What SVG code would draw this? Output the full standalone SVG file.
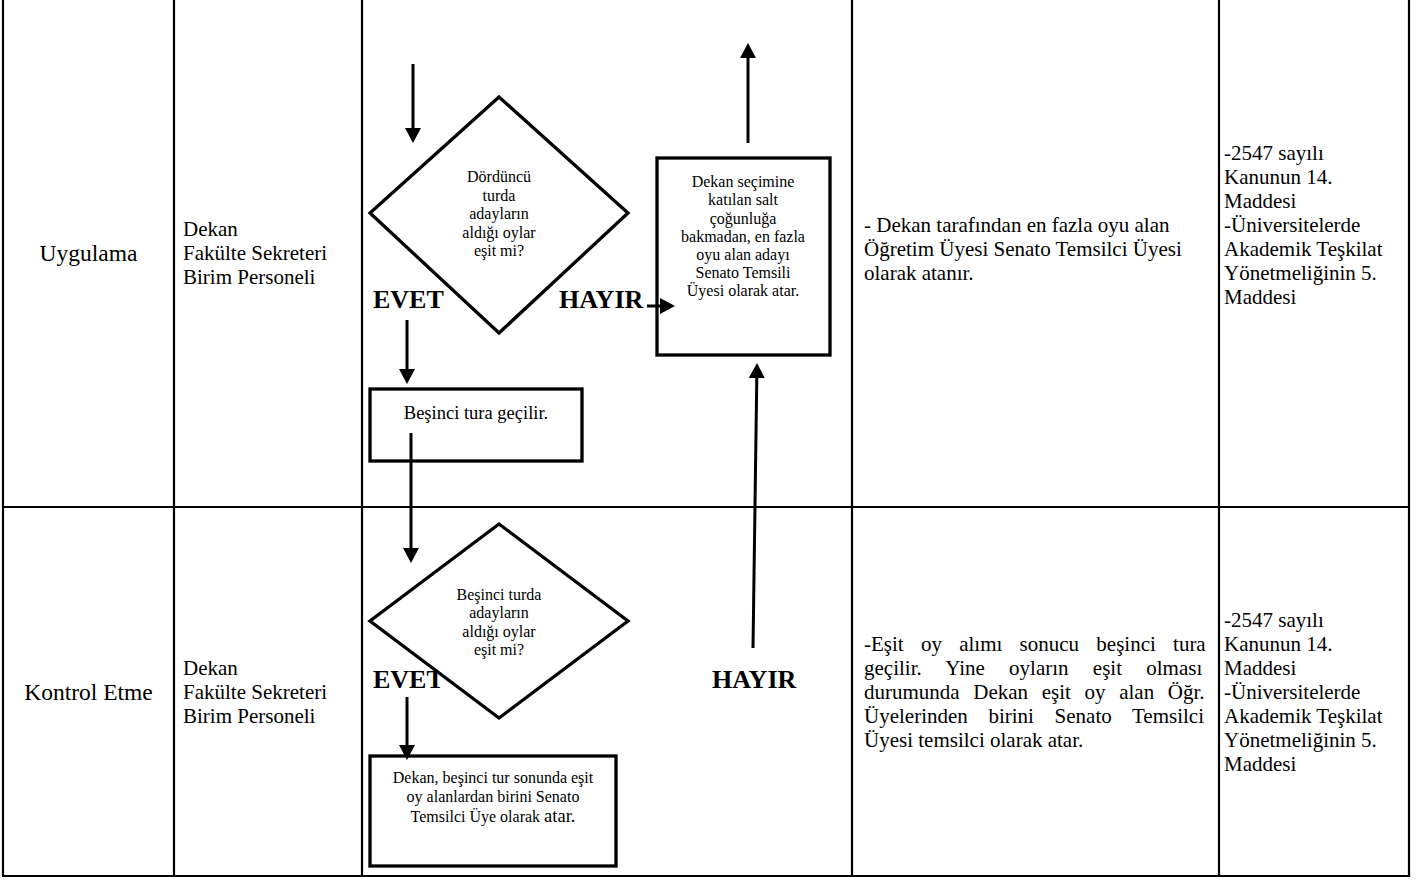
<svg xmlns="http://www.w3.org/2000/svg" width="1421" height="880" viewBox="0 0 1421 880">
<style>
  .grid { stroke: #000; stroke-width: 2.2; fill: none; }
  .shape { stroke: #000; stroke-width: 3.3; fill: #fff; }
  .conn { stroke: #000; stroke-width: 3; fill: none; marker-end: url(#ah); }
  .cell { font-family: "Liberation Serif", "Times New Roman", serif; font-size: 21px; fill: #000; }
  .phase { font-family: "Liberation Serif", "Times New Roman", serif; font-size: 23.5px; fill: #000; text-anchor: middle; }
  .node { font-family: "Liberation Serif", "Times New Roman", serif; font-size: 16px; fill: #000; text-anchor: middle; }
  .lbl { font-family: "Liberation Serif", "Times New Roman", serif; font-size: 26px; font-weight: bold; fill: #000; }
</style>
<defs>
  <marker id="ah" viewBox="0 0 15 16" refX="5" refY="8" markerWidth="15" markerHeight="16" markerUnits="userSpaceOnUse" orient="auto">
    <path d="M0,0 L15,8 L0,16 Z" fill="#000"/>
  </marker>
</defs>
<rect width="1421" height="880" fill="#fff"/>

<g id="table" class="grid">
  <line x1="3" y1="0" x2="3" y2="877"/>
  <line x1="174" y1="0" x2="174" y2="877"/>
  <line x1="362" y1="0" x2="362" y2="877"/>
  <line x1="852" y1="0" x2="852" y2="877"/>
  <line x1="1219" y1="0" x2="1219" y2="877"/>
  <line x1="1409" y1="0" x2="1409" y2="877"/>
  <line x1="2" y1="507" x2="1410" y2="507"/>
  <line x1="2" y1="876" x2="1410" y2="876"/>
</g>

<g id="row1-cells">
  <text class="phase" x="88.5" y="261">Uygulama</text>
  <text class="cell" x="183" y="236">Dekan</text>
  <text class="cell" x="183" y="260">Fakülte Sekreteri</text>
  <text class="cell" x="183" y="284">Birim Personeli</text>
  <text class="cell" x="864" y="232">- Dekan tarafından en fazla oyu alan</text>
  <text class="cell" x="864" y="256">Öğretim Üyesi Senato Temsilci Üyesi</text>
  <text class="cell" x="864" y="280">olarak atanır.</text>
  <text class="cell" x="1224" y="160">-2547 sayılı</text>
  <text class="cell" x="1224" y="184">Kanunun 14.</text>
  <text class="cell" x="1224" y="208">Maddesi</text>
  <text class="cell" x="1224" y="232">-Üniversitelerde</text>
  <text class="cell" x="1224" y="256">Akademik Teşkilat</text>
  <text class="cell" x="1224" y="280">Yönetmeliğinin 5.</text>
  <text class="cell" x="1224" y="304">Maddesi</text>
</g>

<g id="row2-cells">
  <text class="phase" x="88.5" y="700">Kontrol Etme</text>
  <text class="cell" x="183" y="675">Dekan</text>
  <text class="cell" x="183" y="699">Fakülte Sekreteri</text>
  <text class="cell" x="183" y="723">Birim Personeli</text>
  <text class="cell" x="864" y="651" style="word-spacing:12px">-Eşit oy alımı sonucu beşinci tura</text>
  <text class="cell" x="864" y="675" style="word-spacing:19px">geçilir. Yine oyların eşit olması</text>
  <text class="cell" x="864" y="699" style="word-spacing:8.4px">durumunda Dekan eşit oy alan Öğr.</text>
  <text class="cell" x="864" y="723" style="word-spacing:15.4px">Üyelerinden birini Senato Temsilci</text>
  <text class="cell" x="864" y="747">Üyesi temsilci olarak atar.</text>
  <text class="cell" x="1224" y="627">-2547 sayılı</text>
  <text class="cell" x="1224" y="651">Kanunun 14.</text>
  <text class="cell" x="1224" y="675">Maddesi</text>
  <text class="cell" x="1224" y="699">-Üniversitelerde</text>
  <text class="cell" x="1224" y="723">Akademik Teşkilat</text>
  <text class="cell" x="1224" y="747">Yönetmeliğinin 5.</text>
  <text class="cell" x="1224" y="771">Maddesi</text>
</g>

<g id="labels">
  <text class="lbl" x="373" y="308">EVET</text>
  <text class="lbl" x="559" y="308">HAYIR</text>
  <text class="lbl" x="373" y="688">EVET</text>
  <text class="lbl" x="712" y="688">HAYIR</text>
</g>

<g id="decision1">
  <polygon class="shape" points="499,97 628,213 499,333 370,213"/>
  <text class="node" x="499" y="182">Dördüncü</text>
  <text class="node" x="499" y="200.5">turda</text>
  <text class="node" x="499" y="219">adayların</text>
  <text class="node" x="499" y="237.5">aldığı oylar</text>
  <text class="node" x="499" y="256">eşit mi?</text>
</g>

<g id="process-dean-assign">
  <rect class="shape" x="657" y="158" width="173" height="197"/>
  <text class="node" x="743" y="187">Dekan seçimine</text>
  <text class="node" x="743" y="205">katılan salt</text>
  <text class="node" x="743" y="223.5">çoğunluğa</text>
  <text class="node" x="743" y="241.5">bakmadan, en fazla</text>
  <text class="node" x="743" y="259.5">oyu alan adayı</text>
  <text class="node" x="743" y="277.5">Senato Temsili</text>
  <text class="node" x="743" y="296">Üyesi olarak atar.</text>
</g>

<g id="process-fifth-round">
  <rect class="shape" x="370" y="389" width="212" height="72"/>
  <text class="node" x="476" y="419" style="font-size:18.5px">Beşinci tura geçilir.</text>
</g>

<g id="decision2">
  <polygon class="shape" points="499,524 628,621 499,718 370,621"/>
  <text class="node" x="499" y="600">Beşinci turda</text>
  <text class="node" x="499" y="618">adayların</text>
  <text class="node" x="499" y="636.5">aldığı oylar</text>
  <text class="node" x="499" y="655">eşit mi?</text>
</g>

<g id="process-dean-choose">
  <rect class="shape" x="370" y="756" width="246" height="110"/>
  <text class="node" x="493" y="783">Dekan, beşinci tur sonunda eşit</text>
  <text class="node" x="493" y="802">oy alanlardan birini Senato</text>
  <text class="node" x="493" y="822">Temsilci Üye olarak <tspan style="font-size:18.5px">atar.</tspan></text>
</g>

<g id="connectors">
  <line class="conn" x1="413" y1="64" x2="413" y2="133"/>
  <line class="conn" x1="748" y1="143" x2="748" y2="53"/>
  <line class="conn" x1="647" y1="306" x2="665" y2="306"/>
  <line class="conn" x1="407" y1="320" x2="407" y2="374"/>
  <line class="conn" x1="411" y1="433" x2="411" y2="553"/>
  <line class="conn" x1="407" y1="697" x2="407" y2="750"/>
  <line class="conn" x1="753" y1="648" x2="756.86" y2="373"/>
</g>
</svg>
